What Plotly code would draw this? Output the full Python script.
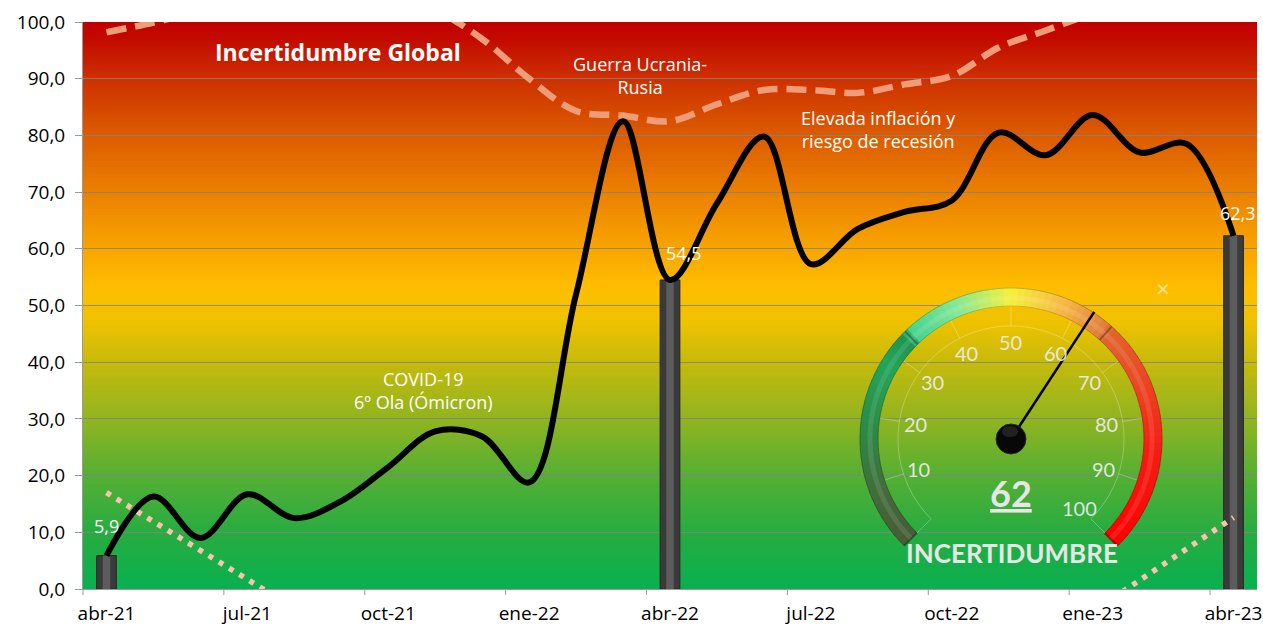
import math
import plotly.graph_objects as go

# ---------------- data ----------------
months = ["abr-21", "may-21", "jun-21", "jul-21", "ago-21", "sep-21", "oct-21", "nov-21", "dic-21",
          "ene-22", "feb-22", "mar-22", "abr-22", "may-22", "jun-22", "jul-22", "ago-22", "sep-22",
          "oct-22", "nov-22", "dic-22", "ene-23", "feb-23", "mar-23", "abr-23"]
incertidumbre = [5.9, 16.3, 9.0, 16.7, 12.5, 15.5, 21.5, 27.8, 26.9, 18.8, 52.0, 82.5, 54.5,
                 68.0, 79.8, 57.3, 63.5, 66.5, 68.5, 80.5, 76.5, 83.6, 77.0, 78.5, 62.3]
incertidumbre_global = [98.2, 99.9, 102.0, 104.0, 105.0, 105.0, 104.0, 102.0, 97.0, 90.0, 84.3, 83.5,
                        82.5, 85.5, 88.0, 88.0, 87.5, 89.0, 90.5, 95.5, 98.5, 101.5, 104.0, 106.0, 107.0]
barras = [5.9] + [None] * 11 + [54.5] + [None] * 11 + [62.3]
tendencia_inicio = [17.0, 11.9, 6.8, 1.7, -3.4] + [None] * 20
tendencia_final = [None] * 21 + [-4.0, 1.5, 7.1, 12.6]
tick_labels = months[::3]
gauge_ticks = [0, 10, 20, 30, 40, 50, 60, 70, 80, 90, 100]
gauge_labels = [10, 20, 30, 40, 50, 60, 70, 80, 90, 100]

idx = list(range(len(months)))

# ---------------- geometry (pixels) ----------------
W_FIG, H_FIG = 1263, 626
L, R, T, B = 83, 1257, 22, 589
PW, PH = R - L, B - T


def px(X):
    return (X - L) / PW


def py(Y):
    return (B - Y) / PH


def lerp_color(stops, v):
    for (v0, c0), (v1, c1) in zip(stops[:-1], stops[1:]):
        if v <= v1:
            t = 0 if v1 == v0 else (v - v0) / (v1 - v0)
            t = max(0.0, min(1.0, t))
            c = [round(a + (b - a) * t) for a, b in zip(c0, c1)]
            return "rgb(%d,%d,%d)" % tuple(c)
    return "rgb(%d,%d,%d)" % tuple(stops[-1][1])


bg_stops = [(0, (8, 176, 80)), (10, (40, 172, 65)), (20, (85, 175, 52)), (30, (145, 180, 32)),
            (40, (198, 186, 12)), (47, (238, 194, 0)), (53, (255, 190, 0)), (60, (248, 165, 0)),
            (70, (235, 128, 0)), (80, (220, 92, 0)), (90, (205, 48, 0)), (97, (195, 10, 0)),
            (100, (192, 0, 0))]

arc_stops = [(0, (70, 92, 54)), (8, (68, 106, 58)), (18, (45, 138, 70)), (28, (35, 165, 90)),
             (33, (30, 150, 80)), (34, (70, 210, 145)), (42, (135, 232, 150)), (50, (245, 240, 60)),
             (58, (245, 185, 70)), (65, (225, 125, 60)), (66, (225, 100, 45)), (75, (235, 70, 35)),
             (85, (245, 30, 20)), (100, (255, 0, 0))]

shapes = []

# background gradient (below grid)
step = 0.5
v = 0.0
while v < 100:
    shapes.append(dict(type="rect", xref="x", yref="y", x0=-0.5, x1=24.5, y0=v, y1=min(100, v + step + 0.15),
                       fillcolor=lerp_color(bg_stops, v + step / 2), line=dict(width=0), layer="below"))
    v += step

# x tick marks at category boundaries every 3 months
for k in range(0, 25, 3):
    xb = k / 25.0
    shapes.append(dict(type="line", xref="paper", yref="paper", x0=xb, x1=xb, y0=0, y1=-6 / PH,
                       line=dict(color="#9a9a9a", width=1)))

# ---------------- gauge ----------------
CX, CY = 1011, 439
R_OUT, R_IN, R_FAINT, R_LAB = 151, 133, 113, 97


def gpt(r, val):
    a = math.radians(225 - 2.7 * val)
    return CX + r * math.cos(a), CY - r * math.sin(a)


# disk hiding gridlines inside gauge
Y = CY - R_OUT
while Y < B - 1:
    y1 = min(Y + 2, B - 1)
    ym = (Y + y1) / 2
    d = ym - CY
    if abs(d) < R_OUT:
        hw = math.sqrt(R_OUT ** 2 - d ** 2)
        val = (B - ym) / PH * 100
        shapes.append(dict(type="rect", xref="paper", yref="paper", x0=px(CX - hw), x1=px(CX + hw),
                           y0=py(y1 + 0.3), y1=py(Y - 0.3), fillcolor=lerp_color(bg_stops, val),
                           line=dict(width=0), layer="between"))
    Y = y1

# faint inner circle
pts = [gpt(R_FAINT, s / 2) for s in range(0, 201)]
shapes.append(dict(type="path", xref="paper", yref="paper",
                   path="M " + " L ".join("%.5f,%.5f" % (px(a), py(b)) for a, b in pts),
                   line=dict(color="rgba(255,255,255,0.28)", width=1)))
for tv in gauge_ticks:
    a1, b1 = gpt(R_FAINT, tv)
    a2, b2 = gpt(R_IN, tv)
    shapes.append(dict(type="line", xref="paper", yref="paper", x0=px(a1), y0=py(b1), x1=px(a2), y1=py(b2),
                       line=dict(color="rgba(255,255,255,0.28)", width=1)))

# coloured arc
N = 100
for i in range(N):
    v0, v1 = i * 100 / N, (i + 1) * 100 / N
    p = [gpt(R_OUT, v0), gpt(R_OUT, v1 + 0.15), gpt(R_IN, v1 + 0.15), gpt(R_IN, v0)]
    path = "M " + " L ".join("%.5f,%.5f" % (px(a), py(b)) for a, b in p) + " Z"
    col = lerp_color(arc_stops, (v0 + v1) / 2)
    shapes.append(dict(type="path", xref="paper", yref="paper", path=path, fillcolor=col,
                       line=dict(color=col, width=0.6), layer="above"))

# arc edges (bevel)
for rr, colr in [(R_OUT, "rgba(0,0,0,0.22)"), (R_IN, "rgba(0,0,0,0.18)")]:
    pts = [gpt(rr, s / 2) for s in range(0, 201)]
    shapes.append(dict(type="path", xref="paper", yref="paper",
                       path="M " + " L ".join("%.5f,%.5f" % (px(a), py(b)) for a, b in pts),
                       line=dict(color=colr, width=1)))
pts = [gpt(141, s / 2) for s in range(0, 201)]
shapes.append(dict(type="path", xref="paper", yref="paper",
                   path="M " + " L ".join("%.5f,%.5f" % (px(a), py(b)) for a, b in pts),
                   line=dict(color="rgba(255,255,255,0.10)", width=5)))
for dv in [0, 33.5, 65.5, 100]:
    a1, b1 = gpt(R_IN, dv)
    a2, b2 = gpt(R_OUT, dv)
    shapes.append(dict(type="line", xref="paper", yref="paper", x0=px(a1), y0=py(b1), x1=px(a2), y1=py(b2),
                       line=dict(color="rgba(0,0,0,0.3)", width=2)))

# needle
gauge_value = incertidumbre[-1]
nx, ny = gpt(R_OUT + 1, gauge_value)
shapes.append(dict(type="line", xref="paper", yref="paper", x0=px(CX), y0=py(CY), x1=px(nx), y1=py(ny),
                   line=dict(color="black", width=2.5)))
# knob
shapes.append(dict(type="circle", xref="paper", yref="paper", x0=px(CX - 15), x1=px(CX + 15),
                   y0=py(CY + 15), y1=py(CY - 15), fillcolor="#080808", line=dict(color="#2a2a2a", width=1)))
shapes.append(dict(type="circle", xref="paper", yref="paper", x0=px(CX - 9), x1=px(CX + 7),
                   y0=py(CY - 2), y1=py(CY - 13), fillcolor="rgba(255,255,255,0.10)", line=dict(width=0)))

# ---------------- traces ----------------
fig = go.Figure()
fig.add_trace(go.Bar(x=idx, y=barras, width=0.42, marker=dict(color="#3a3a3a", line=dict(color="#262626", width=1)),
                     hoverinfo="skip"))
fig.add_trace(go.Bar(x=idx, y=barras, width=0.16, marker=dict(color="#5c5c5c", line=dict(width=0)),
                     hoverinfo="skip"))
for tr in (tendencia_inicio, tendencia_final):
    fig.add_trace(go.Scatter(x=idx, y=tr, mode="lines", line=dict(color="#F9C3AE", width=5.5, dash="5px,7px"),
                             hoverinfo="skip"))
fig.add_trace(go.Scatter(x=idx, y=incertidumbre_global, mode="lines",
                         line=dict(color="#F09C78", width=6.5, dash="20px,9px", shape="spline", smoothing=1.0)))
fig.add_trace(go.Scatter(x=idx, y=incertidumbre, mode="lines",
                         line=dict(color="black", width=6, shape="spline", smoothing=1.0)))

# ---------------- annotations ----------------
FONT = "Open Sans"
ann = []
label_idx = [0, 12, 24]
label_dx = [0, 14, 4]
label_dy = [30, 27, 23]
for i, dx, dy in zip(label_idx, label_dx, label_dy):
    ann.append(dict(x=i, y=incertidumbre[i], xref="x", yref="y", text=("%.1f" % incertidumbre[i]).replace(".", ","),
                    showarrow=False, xshift=dx, yshift=dy, font=dict(family=FONT, size=18, color="white")))

ann.append(dict(x=4.94, y=94.7, xref="x", yref="y", text="<b>Incertidumbre Global</b>", showarrow=False,
                font=dict(family=FONT, size=23, color="white")))
ann.append(dict(x=11.37, y=90.5, xref="x", yref="y", text="Guerra Ucrania-<br>Rusia", showarrow=False,
                font=dict(family=FONT, size=18, color="white")))
ann.append(dict(x=16.43, y=81.0, xref="x", yref="y", text="Elevada inflación y<br>riesgo de recesión",
                showarrow=False, font=dict(family=FONT, size=18, color="white")))
ann.append(dict(x=6.75, y=35.0, xref="x", yref="y", text="COVID-19<br>6º Ola (Ómicron)", showarrow=False,
                font=dict(family=FONT, size=18, color="white")))

GFONT = "Lato"
for gl in gauge_labels:
    a, b = gpt(R_LAB, gl)
    ann.append(dict(x=px(a), y=py(b), xref="paper", yref="paper", text=str(gl), showarrow=False,
                    xanchor="center", yanchor="middle",
                    font=dict(family=GFONT, size=20, color="rgba(238,238,238,0.92)")))
ann.append(dict(x=px(CX), y=py(493), xref="paper", yref="paper", text="<b><u>%d</u></b>" % round(gauge_value),
                showarrow=False, xanchor="center", yanchor="middle",
                font=dict(family=GFONT, size=36, color="#e6e6e6")))
ann.append(dict(x=px(1012), y=py(553), xref="paper", yref="paper", text="<b>INCERTIDUMBRE</b>",
                showarrow=False, xanchor="center", yanchor="middle",
                font=dict(family=GFONT, size=26, color="#e6e6e6")))
ann.append(dict(x=px(1163), y=py(287), xref="paper", yref="paper", text="×", showarrow=False,
                xanchor="center", yanchor="middle", font=dict(family=GFONT, size=24, color="rgba(255,240,200,0.75)")))

fig.update_layout(
    template="none",
    width=W_FIG, height=H_FIG,
    margin=dict(l=L, r=W_FIG - R, t=T, b=H_FIG - B, pad=0),
    paper_bgcolor="white", plot_bgcolor="rgba(0,0,0,0)",
    separators=",.",
    barmode="overlay",
    showlegend=False,
    shapes=shapes,
    annotations=ann,
    font=dict(family=FONT, size=19, color="black"),
    xaxis=dict(range=[-0.5, 24.5], tickmode="array", tickvals=idx[::3], ticktext=tick_labels,
               showgrid=False, zeroline=False, showline=True, linecolor="#9a9a9a", linewidth=1,
               ticks="", ticklabelstandoff=7, automargin=False, fixedrange=True),
    yaxis=dict(range=[0, 100], tickmode="linear", tick0=0, dtick=10, tickformat=".1f",
               showgrid=True, gridcolor="rgba(130,130,130,0.85)", gridwidth=1, zeroline=False,
               showline=True, linecolor="#9a9a9a", linewidth=1, ticks="outside", ticklen=7,
               tickcolor="#9a9a9a", ticklabelstandoff=6, automargin=False, fixedrange=True),
)

fig.write_html("out.html", config={"displayModeBar": False},
               post_script="document.body.style.margin='0px';document.body.style.overflow='hidden';")
